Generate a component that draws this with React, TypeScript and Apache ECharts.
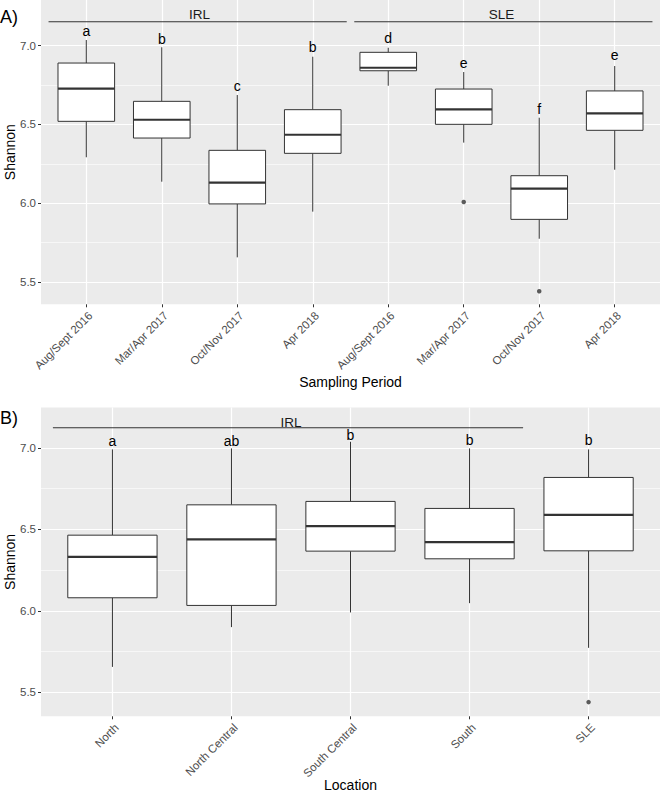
import React, { useEffect, useRef } from 'react';
import * as echarts from 'echarts';

// ---------- Panel A data (Sampling Period) ----------
const periodCategories = ['Aug/Sept 2016', 'Mar/Apr 2017', 'Oct/Nov 2017', 'Apr 2018', 'Aug/Sept 2016', 'Mar/Apr 2017', 'Oct/Nov 2017', 'Apr 2018'];
const periodMin = [6.292, 6.137, 5.657, 5.947, 6.746, 6.385, 5.775, 6.213];
const periodQ1 = [6.520, 6.414, 5.996, 6.317, 6.841, 6.501, 5.898, 6.463];
const periodMedian = [6.727, 6.530, 6.131, 6.435, 6.860, 6.596, 6.093, 6.571];
const periodQ3 = [6.890, 6.647, 6.336, 6.594, 6.958, 6.725, 6.175, 6.713];
const periodMax = [7.036, 6.990, 6.687, 6.930, 6.987, 6.833, 6.543, 6.871];
const periodLetters = ['a', 'b', 'c', 'b', 'd', 'e', 'f', 'e'];
const periodLetterY = [7.092, 7.043, 6.742, 6.992, 7.047, 6.892, 6.598, 6.944];
const periodOutlierPos = [6, 7];
const periodOutlierVal = [6.008, 5.442];
const periodGroupNames = ['IRL', 'SLE'];
const periodGroupStart = [0.5, 4.55];
const periodGroupEnd = [4.45, 8.5];
const periodGroupLabelX = [2.5, 6.5];
const periodGroupLineY = [7.152, 7.152];
const periodGroupLabelY = [7.197, 7.197];

// ---------- Panel B data (Location) ----------
const locationCategories = ['North', 'North Central', 'South Central', 'South', 'SLE'];
const locationMin = [5.656, 5.900, 5.990, 6.047, 5.773];
const locationQ1 = [6.080, 6.033, 6.366, 6.319, 6.368];
const locationMedian = [6.331, 6.438, 6.520, 6.421, 6.589];
const locationQ3 = [6.464, 6.650, 6.671, 6.628, 6.818];
const locationMax = [6.990, 6.996, 7.037, 6.996, 6.990];
const locationLetters = ['a', 'ab', 'b', 'b', 'b'];
const locationLetterY = [7.040, 7.044, 7.079, 7.047, 7.047];
const locationOutlierPos = [5];
const locationOutlierVal = [5.44];
const locationGroupNames = ['IRL'];
const locationGroupStart = [0.5];
const locationGroupEnd = [4.45];
const locationGroupLabelX = [2.5];
const locationGroupLineY = [7.123];
const locationGroupLabelY = [7.156];

const yTicks = [5.5, 6.0, 6.5, 7.0];

// ---------- Layout ----------
const FONT = '"Liberation Sans", Arial, Helvetica, sans-serif';
const PANEL_LEFT = 41;
const PANEL_RIGHT = 660;
const X_EXPAND = 0.6;
const BOX_WIDTH = 0.75;
const STROKE = '#333333';

function buildPanel(p: any, idx: number, d: any) {
  const gi = idx * 3;
  const h = p.bottom - p.top;
  const w = PANEL_RIGHT - PANEL_LEFT;
  const n = d.categories.length;
  const xMin = 1 - X_EXPAND;
  const xMax = n + X_EXPAND;
  const yPix = (v: number) => p.top + ((p.yMax - v) / (p.yMax - p.yMin)) * h;
  const xPix = (v: number) => PANEL_LEFT + ((v - xMin) / (xMax - xMin)) * w;
  const tMin = yTicks[0];
  const tMax = yTicks[yTicks.length - 1];

  const grids = [
    { left: PANEL_LEFT, top: p.top, width: w, height: h, show: true, backgroundColor: '#EBEBEB', borderWidth: 0, z: 0, outerBoundsMode: 'none', containLabel: false },
    { left: PANEL_LEFT, top: yPix(tMax), width: w, height: yPix(tMin) - yPix(tMax), show: false, outerBoundsMode: 'none', containLabel: false },
    { left: xPix(1), top: p.top, width: xPix(n) - xPix(1), height: h, show: false, outerBoundsMode: 'none', containLabel: false },
  ];

  const xAxes = [
    { gridIndex: gi, type: 'value', min: xMin, max: xMax, show: false },
    { gridIndex: gi + 1, type: 'value', min: 0, max: 1, show: false },
    {
      gridIndex: gi + 2, type: 'category', data: d.categories, boundaryGap: false, z: 1,
      axisLine: { show: false },
      axisTick: { show: true, length: 3, interval: 0, lineStyle: { color: STROKE, width: 1 } },
      axisLabel: { interval: 0, rotate: 45, margin: 5, align: 'right', verticalAlign: 'top', fontSize: 11.5, color: '#4D4D4D', fontFamily: FONT },
      splitLine: { show: true, interval: 0, lineStyle: { color: '#FFFFFF', width: 1.2 } },
      name: d.xName, nameLocation: 'middle', nameGap: d.xNameGap, nameMoveOverlap: false,
      nameTextStyle: { fontSize: 14, color: '#000', fontFamily: FONT },
    },
  ];

  const yAxes = [
    {
      gridIndex: gi, type: 'value', min: p.yMin, max: p.yMax,
      axisLine: { show: false }, axisTick: { show: false }, axisLabel: { show: false }, splitLine: { show: false },
      name: 'Shannon', nameLocation: 'middle', nameGap: 24, nameMoveOverlap: false,
      nameTextStyle: { fontSize: 14, color: '#000', fontFamily: FONT },
    },
    {
      gridIndex: gi + 1, type: 'value', min: tMin, max: tMax, interval: 0.5, z: 1,
      axisLine: { show: false },
      axisTick: { show: true, length: 3, lineStyle: { color: STROKE, width: 1 } },
      axisLabel: { margin: 5, fontSize: 11.5, color: '#4D4D4D', fontFamily: FONT, formatter: (v: number) => v.toFixed(1) },
      splitLine: { show: true, lineStyle: { color: '#FFFFFF', width: 1.2 } },
      minorTick: { show: false, splitNumber: 2 },
      minorSplitLine: { show: true, lineStyle: { color: '#FFFFFF', width: 0.6 } },
    },
    { gridIndex: gi + 2, type: 'value', min: 0, max: 1, show: false },
  ];

  const boxData = d.categories.map((_: string, i: number) => [i + 1, d.min[i], d.q1[i], d.median[i], d.q3[i], d.max[i], d.letterY[i]]);
  const letters = d.letters;
  const groupNames = d.groupNames;
  const groupData = groupNames.map((_: string, i: number) => [d.groupStart[i], d.groupEnd[i], d.groupLineY[i], d.groupLabelX[i], d.groupLabelY[i]]);

  const series = [
    {
      type: 'custom', xAxisIndex: gi, yAxisIndex: gi, z: 2,
      data: boxData,
      encode: { x: 0, y: [1, 2, 3, 4, 5, 6] },
      renderItem: (params: any, api: any) => {
        const x = api.value(0);
        const lo = api.coord([x, api.value(1)]);
        const q1 = api.coord([x, api.value(2)]);
        const md = api.coord([x, api.value(3)]);
        const q3 = api.coord([x, api.value(4)]);
        const hi = api.coord([x, api.value(5)]);
        const lab = api.coord([x, api.value(6)]);
        const half = api.size([BOX_WIDTH, 0])[0] / 2;
        return {
          type: 'group',
          children: [
            { type: 'line', shape: { x1: hi[0], y1: hi[1], x2: q3[0], y2: q3[1] }, style: { stroke: STROKE, lineWidth: 1 } },
            { type: 'line', shape: { x1: q1[0], y1: q1[1], x2: lo[0], y2: lo[1] }, style: { stroke: STROKE, lineWidth: 1 } },
            { type: 'rect', shape: { x: q3[0] - half, y: q3[1], width: 2 * half, height: q1[1] - q3[1] }, style: { fill: '#FFFFFF', stroke: STROKE, lineWidth: 1 } },
            { type: 'line', shape: { x1: md[0] - half, y1: md[1], x2: md[0] + half, y2: md[1] }, style: { stroke: STROKE, lineWidth: 2.2 } },
            { type: 'text', x: lab[0], y: lab[1], style: { text: letters[params.dataIndex], fill: '#000', fontSize: 14, fontFamily: FONT, align: 'center', verticalAlign: 'middle' } },
          ],
        };
      },
    },
    {
      type: 'scatter', xAxisIndex: gi, yAxisIndex: gi, z: 3,
      symbol: 'circle', symbolSize: 4.5,
      itemStyle: { color: STROKE },
      data: d.outlierPos.map((x: number, i: number) => [x, d.outlierVal[i]]),
    },
    {
      type: 'custom', xAxisIndex: gi, yAxisIndex: gi, z: 3,
      data: groupData,
      encode: { x: [0, 1, 3], y: [2, 4] },
      renderItem: (params: any, api: any) => {
        const a = api.coord([api.value(0), api.value(2)]);
        const b = api.coord([api.value(1), api.value(2)]);
        const t = api.coord([api.value(3), api.value(4)]);
        return {
          type: 'group',
          children: [
            { type: 'line', shape: { x1: a[0], y1: a[1], x2: b[0], y2: b[1] }, style: { stroke: STROKE, lineWidth: 1.1 } },
            { type: 'text', x: t[0], y: t[1], style: { text: groupNames[params.dataIndex], fill: '#1A1A1A', fontSize: 13.5, fontFamily: FONT, align: 'center', verticalAlign: 'middle' } },
          ],
        };
      },
    },
  ];

  return { grids, xAxes, yAxes, series };
}

export default function App() {
  const ref = useRef<HTMLDivElement>(null);
  useEffect(() => {
    if (!ref.current) return;
    const chart = echarts.init(ref.current, null, { renderer: 'svg' });
    const a = buildPanel({ top: 0, bottom: 304.3, yMin: 5.359, yMax: 7.29 }, 0, {
      categories: periodCategories, min: periodMin, q1: periodQ1, median: periodMedian, q3: periodQ3, max: periodMax,
      letters: periodLetters, letterY: periodLetterY, outlierPos: periodOutlierPos, outlierVal: periodOutlierVal,
      groupNames: periodGroupNames, groupStart: periodGroupStart, groupEnd: periodGroupEnd, groupLabelX: periodGroupLabelX,
      groupLineY: periodGroupLineY, groupLabelY: periodGroupLabelY, xName: 'Sampling Period', xNameGap: 71,
    });
    const b = buildPanel({ top: 407.5, bottom: 716.3, yMin: 5.353, yMax: 7.247 }, 1, {
      categories: locationCategories, min: locationMin, q1: locationQ1, median: locationMedian, q3: locationQ3, max: locationMax,
      letters: locationLetters, letterY: locationLetterY, outlierPos: locationOutlierPos, outlierVal: locationOutlierVal,
      groupNames: locationGroupNames, groupStart: locationGroupStart, groupEnd: locationGroupEnd, groupLabelX: locationGroupLabelX,
      groupLineY: locationGroupLineY, groupLabelY: locationGroupLabelY, xName: 'Location', xNameGap: 62,
    });
    chart.setOption({
      animation: false,
      backgroundColor: '#FFFFFF',
      textStyle: { fontFamily: FONT },
      grid: [...a.grids, ...b.grids],
      xAxis: [...a.xAxes, ...b.xAxes],
      yAxis: [...a.yAxes, ...b.yAxes],
      series: [...a.series, ...b.series],
      graphic: [
        { type: 'text', x: 0, y: 16.5, style: { text: 'A)', fontSize: 18, fill: '#000', fontFamily: FONT, verticalAlign: 'middle' } },
        { type: 'text', x: 0, y: 417.5, style: { text: 'B)', fontSize: 18, fill: '#000', fontFamily: FONT, verticalAlign: 'middle' } },
      ],
    });
    return () => chart.dispose();
  }, []);
  return <div ref={ref} style={{ position: 'absolute', left: 0, top: 0, width: 660, height: 794 }} />;
}
